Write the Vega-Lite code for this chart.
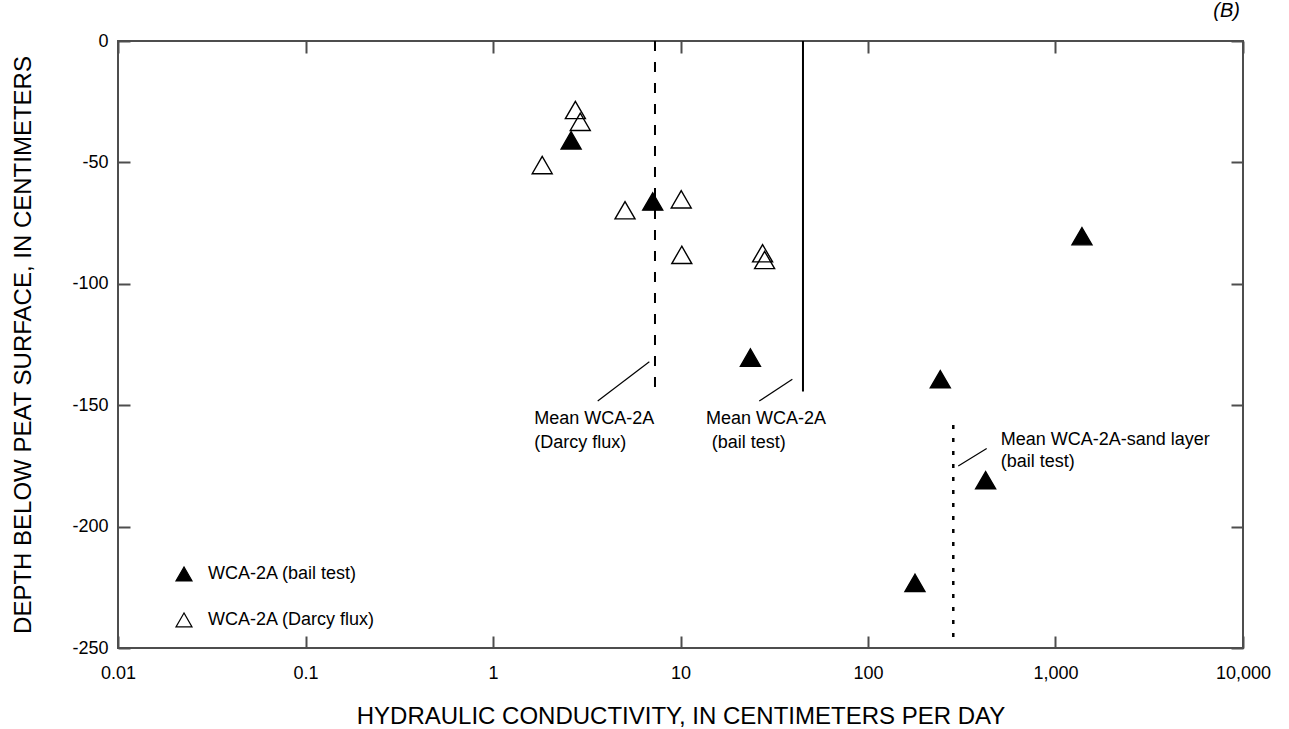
{
  "$schema": "https://vega.github.io/schema/vega-lite/v6.json",
  "autosize": {"type": "none"},
  "padding": {"left": 118, "top": 41, "right": 46, "bottom": 81},
  "width": 1125,
  "height": 607,
  "background": "white",
  "title": {"text": "(B)", "anchor": "end", "frame": "group", "orient": "top", "fontStyle": "italic", "fontWeight": "normal", "fontSize": 20, "font": "Liberation Sans", "color": "black", "baseline": "bottom", "offset": -9, "dx": -3},
  "config": {
    "view": {"stroke": "#4d4d4d", "strokeWidth": 2},
    "axis": {
      "domain": false, "grid": false,
      "tickColor": "#4d4d4d", "tickWidth": 2, "tickSize": -12,
      "labelFont": "Liberation Sans", "labelFontSize": 18, "labelColor": "black",
      "labelFlush": false, "labelOverlap": false,
      "titleFont": "Liberation Sans", "titleFontSize": 24, "titleFontWeight": "normal", "titleColor": "black"
    }
  },
  "datasets": {
    "points": [
      {"k": 2.61, "depth": -40.9, "series": "WCA-2A (bail test)"},
      {"k": 7.11, "depth": -66.1, "series": "WCA-2A (bail test)"},
      {"k": 23.6, "depth": -130.4, "series": "WCA-2A (bail test)"},
      {"k": 243, "depth": -139.3, "series": "WCA-2A (bail test)"},
      {"k": 1384, "depth": -80.4, "series": "WCA-2A (bail test)"},
      {"k": 424, "depth": -180.9, "series": "WCA-2A (bail test)"},
      {"k": 178, "depth": -223.2, "series": "WCA-2A (bail test)"},
      {"k": 2.75, "depth": -28.4, "series": "WCA-2A (Darcy flux)"},
      {"k": 2.92, "depth": -33.3, "series": "WCA-2A (Darcy flux)"},
      {"k": 1.83, "depth": -51.1, "series": "WCA-2A (Darcy flux)"},
      {"k": 5.06, "depth": -69.7, "series": "WCA-2A (Darcy flux)"},
      {"k": 10.09, "depth": -65.2, "series": "WCA-2A (Darcy flux)"},
      {"k": 10.16, "depth": -88.1, "series": "WCA-2A (Darcy flux)"},
      {"k": 27.4, "depth": -87.4, "series": "WCA-2A (Darcy flux)"},
      {"k": 28.1, "depth": -90.2, "series": "WCA-2A (Darcy flux)"}
    ],
    "means": [
      {"kind": "darcy", "k": 7.31, "top": 0, "bottom": -144.0},
      {"kind": "bail", "k": 45.0, "top": 0, "bottom": -144.4},
      {"kind": "sand", "k": 285, "top": -158.2, "bottom": -245.9}
    ],
    "leaders": [
      {"k1": 3.618, "d1": -148.3, "k2": 6.82, "d2": -132.1},
      {"k1": 26.3, "d1": -148.3, "k2": 39.5, "d2": -139.3},
      {"k1": 303, "d1": -175.0, "k2": 429.7, "d2": -167.8}
    ],
    "notes": [
      {"k": 1.661, "depth": -155.8, "text": "Mean WCA-2A"},
      {"k": 1.661, "depth": -165.4, "text": "(Darcy flux)"},
      {"k": 13.68, "depth": -155.8, "text": "Mean WCA-2A"},
      {"k": 14.67, "depth": -165.4, "text": "(bail test)"},
      {"k": 510.4, "depth": -164.3, "text": "Mean WCA-2A-sand layer"},
      {"k": 510.4, "depth": -173.4, "text": "(bail test)"}
    ]
  },
  "layer": [
    {
      "data": {"name": "means"},
      "transform": [{"filter": "datum.kind == 'darcy'"}],
      "mark": {"type": "rule", "color": "black", "strokeWidth": 2, "strokeDash": [10, 11]},
      "encoding": {
        "x": {"field": "k", "type": "quantitative", "axis": {"orient": "top", "values": [0.01, 0.1, 1, 10, 100, 1000, 10000], "labels": false, "title": null}},
        "y": {"field": "top", "type": "quantitative", "axis": {"orient": "right", "values": [-250, -200, -150, -100, -50, 0], "labels": false, "title": null}},
        "y2": {"field": "bottom"}
      }
    },
    {
      "data": {"name": "means"},
      "transform": [{"filter": "datum.kind == 'bail'"}],
      "mark": {"type": "rule", "color": "black", "strokeWidth": 2},
      "encoding": {
        "x": {"field": "k", "type": "quantitative", "axis": null},
        "y": {"field": "top", "type": "quantitative", "axis": null},
        "y2": {"field": "bottom"}
      }
    },
    {
      "data": {"name": "means"},
      "transform": [{"filter": "datum.kind == 'sand'"}],
      "mark": {"type": "rule", "color": "black", "strokeWidth": 2.5, "strokeDash": [4, 9]},
      "encoding": {
        "x": {"field": "k", "type": "quantitative", "axis": null},
        "y": {"field": "top", "type": "quantitative", "axis": null},
        "y2": {"field": "bottom"}
      }
    },
    {
      "data": {"name": "leaders"},
      "mark": {"type": "rule", "color": "black", "strokeWidth": 1.2},
      "encoding": {
        "x": {"field": "k1", "type": "quantitative", "axis": null},
        "x2": {"field": "k2"},
        "y": {"field": "d1", "type": "quantitative", "axis": null},
        "y2": {"field": "d2"}
      }
    },
    {
      "data": {"name": "notes"},
      "mark": {"type": "text", "align": "left", "baseline": "middle", "font": "Liberation Sans", "fontSize": 18, "color": "black"},
      "encoding": {
        "x": {"field": "k", "type": "quantitative", "axis": null},
        "y": {"field": "depth", "type": "quantitative", "axis": null},
        "text": {"field": "text"}
      }
    },
    {
      "data": {"name": "points"},
      "mark": {"type": "point", "shape": "triangle-up", "filled": true, "size": 400, "stroke": "black", "strokeWidth": 1.4, "opacity": 1},
      "encoding": {
        "x": {"field": "k", "type": "quantitative",
              "scale": {"type": "log", "domain": [0.01, 10000], "nice": false},
              "axis": {"orient": "bottom", "values": [0.01, 0.1, 1, 10, 100, 1000, 10000], "format": ",~g", "labelPadding": 28, "title": "HYDRAULIC CONDUCTIVITY, IN CENTIMETERS PER DAY", "titlePadding": 22}},
        "y": {"field": "depth", "type": "quantitative",
              "scale": {"domain": [-250, 0], "nice": false, "zero": false},
              "axis": {"orient": "left", "values": [-250, -200, -150, -100, -50, 0], "labelExpr": "datum.value == 0 ? '0' : '-' + abs(datum.value)", "labelPadding": 22, "title": "DEPTH BELOW PEAT SURFACE, IN CENTIMETERS", "titlePadding": 36}},
        "fill": {"field": "series", "type": "nominal",
                 "scale": {"domain": ["WCA-2A (bail test)", "WCA-2A (Darcy flux)"], "range": ["black", "transparent"]},
                 "legend": {"orient": "none", "legendX": 57, "legendY": 524, "title": null, "padding": 0,
                            "symbolType": "triangle-up", "symbolSize": 256, "symbolStrokeColor": "black", "symbolStrokeWidth": 1.2, "symbolOpacity": 1,
                            "labelFont": "Liberation Sans", "labelFontSize": 18, "labelColor": "black", "labelOffset": 15, "labelLimit": 400, "rowPadding": 26}}
      }
    }
  ],
  "resolve": {"axis": {"x": "independent", "y": "independent"}}
}
